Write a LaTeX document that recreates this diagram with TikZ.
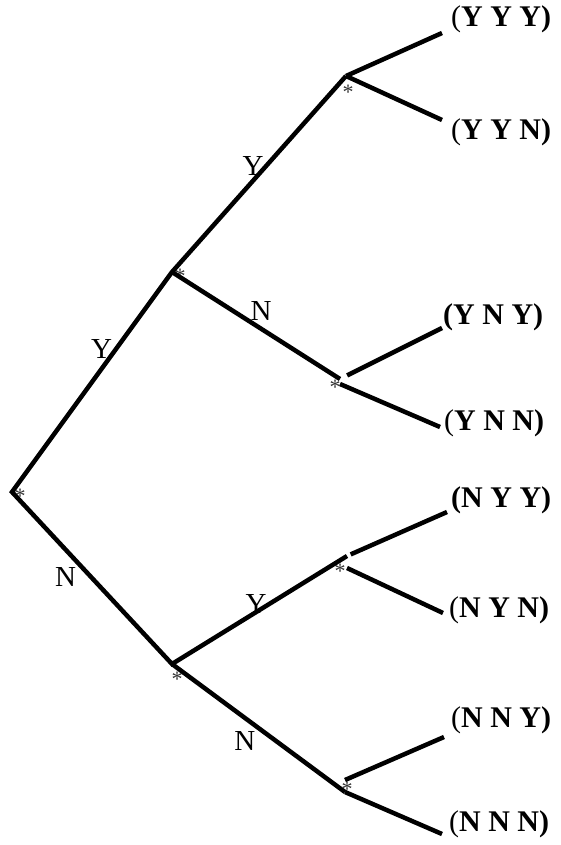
\documentclass[tikz,border=0pt]{standalone}
\usepackage{fontspec}
\setmainfont{Liberation Serif}
\usetikzlibrary{positioning}

\begin{document}
\begin{tikzpicture}[x=1pt, y=-1pt,
  branch/.style={line width=4.5pt},
  astk/.style={font=\fontsize{22}{22}\selectfont, text=black!80, inner sep=0pt},
  elab/.style={font=\fontsize{29}{30}\selectfont, inner sep=1pt},
  leaf/.style={font=\fontsize{30}{31}\selectfont\bfseries, anchor=base west, inner sep=0pt}
]
\useasboundingbox (0,0) rectangle (560,845);

%─── VERTICES ────────────────────────────────────────────────────────────────
\coordinate (root) at (12,492);
\coordinate (y)    at (172,272);
\coordinate (n)    at (172,664);
\coordinate (yy)   at (346,76);
\coordinate (yn)   at (340,379);
\coordinate (ny)   at (347,556);
\coordinate (nn)   at (345,792);

% free ends of the last branches
\coordinate (yyyE) at (442,33);
\coordinate (yynE) at (442,120);
\coordinate (ynyE) at (442,328);
\coordinate (ynnE) at (440,427);
\coordinate (nyyE) at (447,512);
\coordinate (nynE) at (443,613);
\coordinate (nnyE) at (444,737);
\coordinate (nnnE) at (442,834);

%─── STARS ───────────────────────────────────────────────────────────────────
\node[astk] (sroot) at (20,496)  {*};
\node[astk] (sy)    at (180,276) {*};
\node[astk] (syy)   at (348,92)  {*};
\node[astk] (syn)   at (335,387) {*};
\node[astk] (sny)   at (340,571) {*};
\node[astk] (snn)   at (347,789) {*};
\node[astk] (sn)    at (177,679) {*};

%─── MAIN BRANCHES ───────────────────────────────────────────────────────────
\draw[branch] (yy)
  -- node[elab,pos=0.5,xshift=-6pt,yshift=8pt]{Y}
  (y)
  -- node[elab,pos=0.44,yshift=20pt]{Y}
  (root)
  -- node[elab,pos=0.42,anchor=north east]{N}
  (n)
  -- node[elab,pos=0.48,yshift=8pt]{Y}
  (ny);

\draw[branch] (y)
  -- node[elab,pos=0.53,yshift=18pt]{N}
  (yn);

\draw[branch] (n)
  -- node[elab,pos=0.5,anchor=north east]{N}
  (nn);

%─── LAST BRANCHES ───────────────────────────────────────────────────────────
\draw[branch] (yy) -- (yyyE);
\draw[branch] (yy) -- (yynE);

\draw[branch, shorten <=8pt] (yn) -- (ynyE);
\draw[branch] ([yshift=-5pt]yn) -- (ynnE);

\draw[branch, shorten <=4pt] (ny) -- (nyyE);
\draw[branch] ([yshift=-12pt]ny) -- (nynE);

\draw[branch] ([yshift=12pt]nn) -- (nnyE);
\draw[branch] (nn) -- (nnnE);

%─── OUTCOMES ────────────────────────────────────────────────────────────────
\node[leaf] (yyy) at (451,27)  {\mdseries(\bfseries Y Y Y)};
\node[leaf] (yyn) at (451,140) {\mdseries(\bfseries Y Y N)};
\node[leaf] (yny) at (443,324) {(Y N Y)};
\node[leaf] (ynn) at (444,430) {\mdseries(\bfseries Y N N)};
\node[leaf] (nyy) at (451,507) {(N Y Y)};
\node[leaf] (nyn) at (449,617) {\mdseries(\bfseries N Y N)};
\node[leaf] (nny) at (451,727) {\mdseries(\bfseries N N Y)};
\node[leaf] (nnn) at (449,831) {\mdseries(\bfseries N N N)};

\end{tikzpicture}
\end{document}
